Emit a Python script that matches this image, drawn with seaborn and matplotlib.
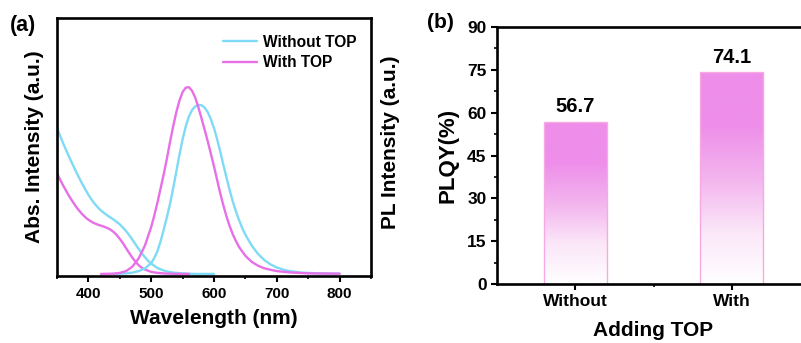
import numpy as np
import pandas as pd
import matplotlib
matplotlib.use("Agg")
import matplotlib.pyplot as plt
import seaborn as sns
from matplotlib.ticker import MultipleLocator

# ---------------- data ----------------
abs_wo_x = [350, 355, 360, 365, 370, 375, 380, 385, 390, 395, 400, 405, 410, 415,
            420, 425, 430, 435, 440, 445, 450, 455, 460, 465, 470, 475, 480, 485,
            490, 495, 500, 510, 520, 530, 540, 550, 570, 600]
abs_wo_y = [0.574, 0.543, 0.513, 0.485, 0.458, 0.432, 0.406, 0.382, 0.358, 0.336,
            0.315, 0.296, 0.280, 0.266, 0.254, 0.244, 0.235, 0.227, 0.219, 0.210,
            0.200, 0.188, 0.174, 0.158, 0.141, 0.123, 0.105, 0.088, 0.073, 0.059,
            0.048, 0.031, 0.021, 0.015, 0.012, 0.010, 0.008, 0.008]

abs_w_x = [350, 355, 360, 365, 370, 375, 380, 385, 390, 395, 400, 405, 410, 415,
           420, 425, 430, 435, 440, 445, 450, 455, 460, 465, 470, 475, 480, 485,
           490, 500, 510, 520, 540, 560]
abs_w_y = [0.399, 0.373, 0.350, 0.328, 0.307, 0.288, 0.270, 0.254, 0.240, 0.228,
           0.218, 0.210, 0.204, 0.199, 0.195, 0.191, 0.186, 0.180, 0.171, 0.159,
           0.144, 0.127, 0.108, 0.089, 0.071, 0.055, 0.042, 0.032, 0.025, 0.016,
           0.012, 0.010, 0.008, 0.008]

pl_wo_x = [440, 460, 470, 480, 490, 500, 505, 510, 515, 520, 525, 530, 535, 540,
           545, 550, 555, 560, 565, 570, 575, 580, 585, 590, 595, 600, 605, 610,
           615, 620, 625, 630, 635, 640, 645, 650, 660, 670, 680, 690, 700, 710,
           720, 740, 770, 800]
pl_wo_y = [0.008, 0.010, 0.013, 0.019, 0.029, 0.050, 0.070, 0.097, 0.135, 0.180,
           0.228, 0.280, 0.340, 0.405, 0.470, 0.530, 0.580, 0.618, 0.643, 0.657,
           0.663, 0.662, 0.653, 0.635, 0.608, 0.573, 0.530, 0.482, 0.430, 0.380,
           0.332, 0.288, 0.250, 0.216, 0.186, 0.160, 0.118, 0.086, 0.062, 0.045,
           0.033, 0.025, 0.019, 0.013, 0.010, 0.009]

pl_w_x = [420, 440, 450, 460, 470, 480, 490, 500, 505, 510, 515, 520, 525, 530,
          535, 540, 545, 550, 555, 560, 565, 570, 575, 580, 585, 590, 595, 600,
          605, 610, 615, 620, 625, 630, 635, 640, 650, 660, 670, 680, 690, 700,
          720, 750, 800]
pl_w_y = [0.008, 0.009, 0.012, 0.019, 0.036, 0.068, 0.118, 0.190, 0.235, 0.285,
          0.340, 0.395, 0.455, 0.520, 0.580, 0.635, 0.680, 0.713, 0.730, 0.732,
          0.718, 0.692, 0.655, 0.612, 0.568, 0.522, 0.474, 0.425, 0.372, 0.320,
          0.273, 0.230, 0.193, 0.161, 0.135, 0.112, 0.078, 0.055, 0.040, 0.030,
          0.024, 0.019, 0.014, 0.010, 0.009]

series_labels = ["Without TOP", "With TOP"]
wl_ticks = [400, 500, 600, 700, 800]

categories = ["Without", "With"]
plqy = [56.7, 74.1]
plqy_ticks = [0, 15, 30, 45, 60, 75, 90]

cyan = "#7fdaf6"
magenta = "#e86fe6"

# ---------------- style ----------------
sns.set_theme(style="white")
plt.rcParams["font.family"] = ["Liberation Sans", "DejaVu Sans"]
plt.rcParams["font.weight"] = "bold"
plt.rcParams["axes.labelweight"] = "bold"
for key in ["text.color", "axes.labelcolor", "xtick.color", "ytick.color",
            "axes.edgecolor", "xtick.labelcolor", "ytick.labelcolor"]:
    plt.rcParams[key] = "black"

fig = plt.figure(figsize=(8.01, 3.43), dpi=100)
ax1 = fig.add_axes([57 / 801, 67 / 343, 314 / 801, 258 / 343])
ax2 = fig.add_axes([497 / 801, 59 / 343, 313 / 801, 257 / 343])

# ---------------- panel (a) ----------------
lw = 1.7
sns.lineplot(x=abs_wo_x, y=abs_wo_y, ax=ax1, color=cyan, lw=lw, label=series_labels[0])
sns.lineplot(x=abs_w_x, y=abs_w_y, ax=ax1, color=magenta, lw=lw, label=series_labels[1])
sns.lineplot(x=pl_wo_x, y=pl_wo_y, ax=ax1, color=cyan, lw=lw)
sns.lineplot(x=pl_w_x, y=pl_w_y, ax=ax1, color=magenta, lw=lw)

ax1.set_xlim(350, 850)
ax1.set_ylim(0, 1)
ax1.set_yticks([])
ax1.set_xticks(wl_ticks)
ax1.set_xticklabels([str(t) for t in wl_ticks], fontweight="bold", fontsize=11,
                    color="black")
ax1.xaxis.set_minor_locator(MultipleLocator(50))
ax1.tick_params(axis="x", which="major", direction="out", length=4, width=1.5,
                pad=4, bottom=True, color="black")
ax1.tick_params(axis="x", which="minor", direction="out", length=2.5, width=1.2,
                bottom=True, color="black")
for sp in ax1.spines.values():
    sp.set_linewidth(1.9)
    sp.set_color("black")
ax1.set_xlabel("Wavelength (nm)", fontsize=15, fontweight="bold", labelpad=6, color="black")
ax1.set_ylabel("Abs. Intensity (a.u.)", fontsize=15, fontweight="bold", labelpad=9,
               color="black")
ax1.text(1.062, 0.52, "PL Intensity (a.u.)", transform=ax1.transAxes, rotation=90,
         ha="center", va="center", fontsize=15, fontweight="bold", color="black")
leg = ax1.legend(loc="upper right", bbox_to_anchor=(0.998, 0.99), frameon=False,
                 handlelength=2.2, handletextpad=0.35, labelspacing=0.35,
                 prop={"weight": "bold", "size": 11.2})
for t in leg.get_texts():
    t.set_color("black")
fig.text(10 / 801, 1 - 26 / 343, "(a)", fontsize=15.5, fontweight="bold", va="center",
         color="black")

# ---------------- panel (b) ----------------
df = pd.DataFrame({"cat": categories, "val": plqy})
sns.barplot(data=df, x="cat", y="val", ax=ax2, width=0.4, facecolor="none",
            edgecolor="#f6a9e2", linewidth=1.0)

grad = np.linspace(1, 0, 256).reshape(-1, 1)
cmap = matplotlib.colors.LinearSegmentedColormap.from_list(
    "pinkgrad", ["#ffffff", "#fbe6f8", "#f3b4ee", "#ee8eea", "#ee8eea"])
for p in ax2.patches:
    x0, y0 = p.get_x(), p.get_y()
    w, h = p.get_width(), p.get_height()
    im = ax2.imshow(grad, extent=(x0, x0 + w, y0, y0 + h), aspect="auto",
                    cmap=cmap, vmin=0, vmax=1, zorder=1, origin="upper")
    im.set_clip_path(p)
    p.set_zorder(2)

ax2.set_xlim(-0.5, 1.5)
ax2.set_ylim(0, 90)
ax2.set_yticks(plqy_ticks)
ax2.set_yticklabels([str(t) for t in plqy_ticks], fontweight="bold", fontsize=12.5,
                    color="black")
ax2.yaxis.set_minor_locator(MultipleLocator(7.5))
ax2.set_xticks([0, 1])
ax2.set_xticklabels(categories, fontweight="bold", fontsize=12.5, color="black")
ax2.set_xticks([0.5], minor=True)

for p, v in zip(ax2.patches, plqy):
    ax2.text(p.get_x() + p.get_width() / 2, v + 2, f"{v:.1f}", ha="center",
             va="bottom", fontsize=14.5, fontweight="bold", color="black")

ax2.tick_params(axis="both", which="major", direction="out", length=4, width=1.5,
                left=True, bottom=True, color="black")
ax2.tick_params(axis="both", which="minor", direction="out", length=2.5, width=1.2,
                left=True, bottom=True, color="black")
for sp in ax2.spines.values():
    sp.set_linewidth(1.9)
    sp.set_color("black")
ax2.set_xlabel("Adding TOP", fontsize=15, fontweight="bold", labelpad=8, color="black")
ax2.set_ylabel("PLQY(%)", fontsize=16, fontweight="bold", labelpad=6, color="black")
fig.text(427 / 801, 1 - 23 / 343, "(b)", fontsize=15, fontweight="bold", va="center",
         color="black")

fig.savefig("out.png", dpi=100)
